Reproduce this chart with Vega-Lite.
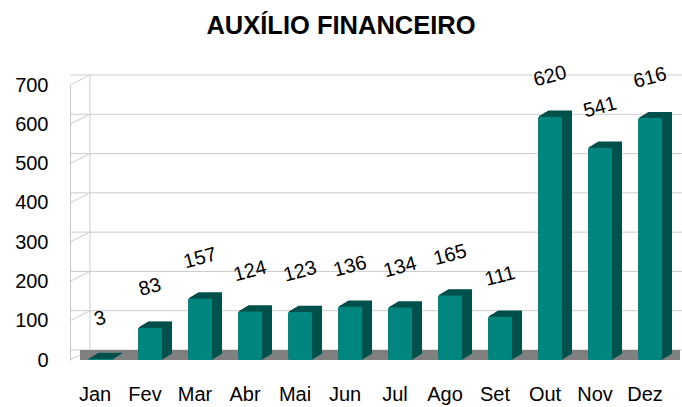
{
  "$schema": "https://vega.github.io/schema/vega-lite/v6.json",
  "width": 600,
  "height": 275,
  "autosize": {"type": "none"},
  "padding": {"left": 70, "top": 85, "right": 12, "bottom": 47},
  "background": "white",
  "title": {"text": "AUXÍLIO FINANCEIRO", "fontSize": 25.5, "font": "Liberation Sans", "fontWeight": "bold", "color": "#000000", "anchor": "middle", "dx": -29, "offset": 23},
  "datasets": {
    "meses": [
      {"mes": "Jan", "valor": 3},
      {"mes": "Fev", "valor": 83},
      {"mes": "Mar", "valor": 157},
      {"mes": "Abr", "valor": 124},
      {"mes": "Mai", "valor": 123},
      {"mes": "Jun", "valor": 136},
      {"mes": "Jul", "valor": 134},
      {"mes": "Ago", "valor": 165},
      {"mes": "Set", "valor": 111},
      {"mes": "Out", "valor": 620},
      {"mes": "Nov", "valor": 541},
      {"mes": "Dez", "valor": 616}
    ],
    "grade": [{"v": 0}, {"v": 100}, {"v": 200}, {"v": 300}, {"v": 400}, {"v": 500}, {"v": 600}, {"v": 700}]
  },
  "resolve": {"scale": {"x": "independent"}, "axis": {"x": "independent"}},
  "layer": [
    {
      "layer": [
        {
          "data": {"name": "grade"},
          "mark": {"type": "rule", "color": "#cccccc", "xOffset": 20, "x2Offset": 20, "yOffset": -10},
          "encoding": {"y": {"field": "v", "type": "quantitative", "scale": {"domain": [0, 700], "nice": false}, "title": null}}
        },
        {
          "data": {"name": "grade"},
          "mark": {"type": "rule", "color": "#cccccc", "x2Offset": 20, "y2Offset": -10},
          "encoding": {
            "x": {"datum": 0, "type": "quantitative", "scale": {"domain": [0, 1]}, "axis": null},
            "x2": {"datum": 0},
            "y": {"field": "v", "type": "quantitative", "title": null},
            "y2": {"field": "v"}
          }
        },
        {
          "data": {"values": [{}]},
          "mark": {"type": "rule", "color": "#cccccc", "xOffset": 20, "yOffset": -10, "y2Offset": -10},
          "encoding": {
            "x": {"datum": 0, "type": "quantitative", "scale": {"domain": [0, 1]}, "axis": null},
            "y": {"datum": 0, "type": "quantitative", "title": null},
            "y2": {"datum": 700}
          }
        },
        {
          "data": {"values": [{}]},
          "mark": {"type": "rect", "color": "#808080", "xOffset": 10, "x2Offset": 10, "y2Offset": -10},
          "encoding": {
            "x": {"datum": 0, "type": "quantitative", "scale": {"domain": [0, 1]}, "axis": null},
            "x2": {"datum": 1},
            "y": {"datum": 0, "type": "quantitative", "title": null},
            "y2": {"datum": 0}
          }
        }
      ]
    },
    {
      "data": {"name": "meses"},
      "encoding": {
        "x": {"field": "mes", "type": "nominal", "sort": null, "scale": {"paddingInner": 0.52, "paddingOuter": 0.26}, "title": null,
              "axis": {"labelAngle": 0, "ticks": false, "domain": false, "labelPadding": 24, "labelFontSize": 20, "labelFont": "Liberation Sans", "labelColor": "#000000"}},
        "y": {"field": "valor", "type": "quantitative", "scale": {"domain": [0, 700], "nice": false}, "title": null}
      },
      "layer": [
        {"mark": {"type": "bar", "color": "#00504c", "xOffset": 15, "x2Offset": 15, "yOffset": -6, "y2Offset": -9}},
        {"mark": {"type": "bar", "color": "#00504c", "xOffset": 14, "x2Offset": 14, "yOffset": -5.4, "y2Offset": -8.4}},
        {"mark": {"type": "bar", "color": "#00504c", "xOffset": 13, "x2Offset": 13, "yOffset": -4.8, "y2Offset": -7.8}},
        {"mark": {"type": "bar", "color": "#00504c", "xOffset": 12, "x2Offset": 12, "yOffset": -4.2, "y2Offset": -7.2}},
        {"mark": {"type": "bar", "color": "#00504c", "xOffset": 11, "x2Offset": 11, "yOffset": -3.6, "y2Offset": -6.6}},
        {"mark": {"type": "bar", "color": "#00504c", "xOffset": 10, "x2Offset": 10, "yOffset": -3, "y2Offset": -6}},
        {"mark": {"type": "bar", "color": "#00504c", "xOffset": 9, "x2Offset": 9, "yOffset": -2.4, "y2Offset": -5.4}},
        {"mark": {"type": "bar", "color": "#00504c", "xOffset": 8, "x2Offset": 8, "yOffset": -1.8, "y2Offset": -4.8}},
        {"mark": {"type": "bar", "color": "#00504c", "xOffset": 7, "x2Offset": 7, "yOffset": -1.2, "y2Offset": -4.2}},
        {"mark": {"type": "bar", "color": "#00504c", "xOffset": 6, "x2Offset": 6, "yOffset": -0.6, "y2Offset": -3.6}},
        {"mark": {"type": "bar", "color": "#00857f", "xOffset": 5, "x2Offset": 5, "y2Offset": -3, "cornerRadius": 1.5}},
        {"mark": {"type": "text", "angle": 345, "yOffset": -40, "xOffset": 5, "fontSize": 20, "font": "Liberation Sans", "color": "#000000", "baseline": "middle", "align": "center"},
         "encoding": {"text": {"field": "valor", "type": "quantitative"}}}
      ]
    }
  ],
  "config": {
    "view": {"stroke": null},
    "axisY": {"domainColor": "#c8c8c8", "ticks": false, "labelPadding": 22, "labelFontSize": 20, "labelFont": "Liberation Sans", "labelColor": "#000000", "grid": false, "tickCount": 7}
  }
}
